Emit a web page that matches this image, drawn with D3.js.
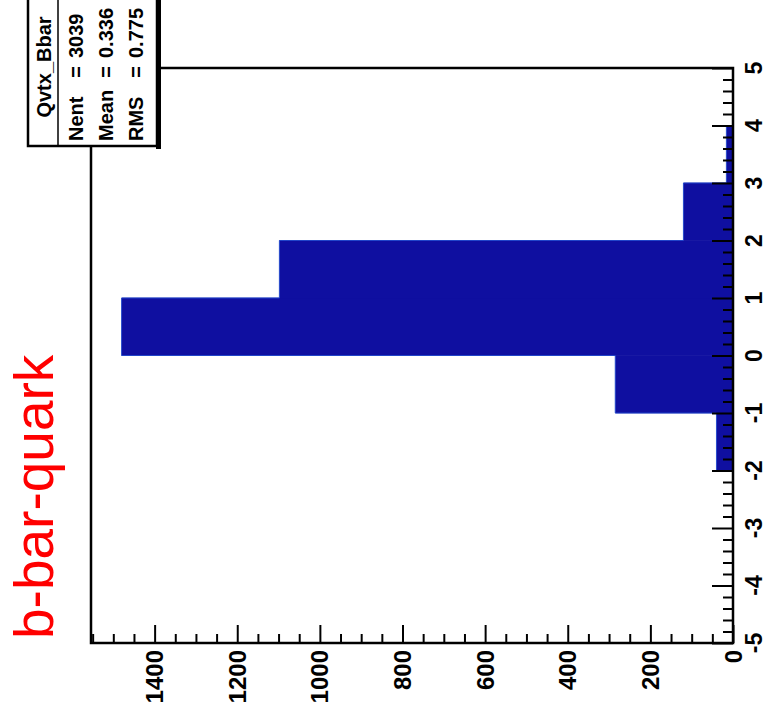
<!DOCTYPE html>
<html>
<head>
<meta charset="utf-8">
<script src="https://cdn.jsdelivr.net/npm/d3@7"></script>
<style>
  html, body { margin: 0; padding: 0; background: #fff; }
  svg { display: block; }
  text { font-family: "Liberation Sans", Arial, Helvetica, sans-serif; }
</style>
</head>
<body>
<script>
// Histogram contents: lower edge of each unit-wide bin and its entries
const binLow = [-2, -1, 0, 1, 2, 3];
const counts = [40, 285, 1480, 1098, 120, 16];

// Axis tick labels
const valueTicks = [-5, -4, -3, -2, -1, 0, 1, 2, 3, 4, 5];
const countTicks = [0, 200, 400, 600, 800, 1000, 1200, 1400];

const histName = "Qvtx_Bbar";
const titleText = "b-bar-quark";

const W = 767, H = 722;
const svg = d3.select("body").append("svg")
  .attr("width", W).attr("height", H);

// The pad is drawn turned a quarter turn: the value axis runs up the right
// edge and the entries axis runs along the bottom, growing to the left.
const frame = { left: 91, right: 733, top: 68, bottom: 643 };
const maxCount = d3.max(counts) * 1.05;

const x = d3.scaleLinear().domain([0, maxCount]).range([frame.right, frame.left]);
const y = d3.scaleLinear().domain([-5, 5]).range([frame.bottom, frame.top]);

// Filled bins
const bins = binLow.map((lo, i) => ({ lo, c: counts[i] }));
svg.append("g").selectAll("rect")
  .data(bins)
  .join("rect")
  .attr("x", d => x(d.c))
  .attr("width", d => x(0) - x(d.c))
  .attr("y", d => y(d.lo + 1) - 0.3)
  .attr("height", d => y(d.lo) - y(d.lo + 1) + 0.6)
  .attr("fill", "#0f0fa0");

// Outline of the histogram as one stepped path
const outline = [[x(0), y(binLow[0])]];
bins.forEach(d => {
  outline.push([x(d.c), y(d.lo)]);
  outline.push([x(d.c), y(d.lo + 1)]);
});
outline.push([x(0), y(binLow[binLow.length - 1] + 1)]);
svg.append("path")
  .attr("d", d3.line()(outline))
  .attr("fill", "none")
  .attr("stroke", "#1e46cc")
  .attr("stroke-width", 0.9);

// Frame
svg.append("rect")
  .attr("x", frame.left).attr("y", frame.top)
  .attr("width", frame.right - frame.left)
  .attr("height", frame.bottom - frame.top)
  .attr("fill", "none").attr("stroke", "#000").attr("stroke-width", 2.5);

function styleAxis(g) {
  g.select(".domain").remove();
  g.selectAll(".tick line").attr("stroke", "#000").attr("stroke-width", 2);
}

// Value axis ticks (pointing into the frame)
const vMinor = d3.range(-50, 51, 2).map(d => d / 10).filter(d => Math.abs(d % 1) > 1e-9);
svg.append("g")
  .attr("transform", `translate(${frame.right},0)`)
  .call(d3.axisLeft(y).tickValues(vMinor).tickSize(10).tickFormat(""))
  .call(styleAxis);
svg.append("g")
  .attr("transform", `translate(${frame.right},0)`)
  .call(d3.axisLeft(y).tickValues(valueTicks).tickSize(21).tickFormat(""))
  .call(styleAxis);

// Entries axis ticks
const cMinor = d3.range(50, maxCount, 50).filter(d => d % 200 !== 0);
svg.append("g")
  .attr("transform", `translate(0,${frame.bottom})`)
  .call(d3.axisTop(x).tickValues(cMinor).tickSize(9).tickFormat(""))
  .call(styleAxis);
svg.append("g")
  .attr("transform", `translate(0,${frame.bottom})`)
  .call(d3.axisTop(x).tickValues(countTicks).tickSize(18).tickFormat(""))
  .call(styleAxis);

// Value axis labels
svg.append("g").selectAll("text")
  .data(valueTicks)
  .join("text")
  .attr("transform", d => `translate(762,${y(d)}) rotate(-90)`)
  .attr("text-anchor", "middle")
  .attr("font-size", 23).attr("font-weight", "bold")
  .attr("fill", "#000")
  .text(d => d);

// Entries axis labels
svg.append("g").selectAll("text")
  .data(countTicks)
  .join("text")
  .attr("transform", d => `translate(${x(d) + 8.5},650) rotate(-90)`)
  .attr("text-anchor", "end")
  .attr("font-size", 24).attr("font-weight", "bold")
  .attr("fill", "#000")
  .text(d => d);

// Title
svg.append("text")
  .attr("transform", "translate(53,639) rotate(-90)")
  .attr("text-anchor", "start")
  .attr("font-size", 55)
  .attr("fill", "#ff0000")
  .text(titleText);

// Statistics box
const nent = d3.sum(counts);
const mean = d3.sum(binLow, (v, i) => v * counts[i]) / nent;
const rms = Math.sqrt(d3.sum(binLow, (v, i) => v * v * counts[i]) / nent - mean * mean);

const box = { left: 28, right: 157, top: -12, bottom: 146 };
const stats = svg.append("g");
stats.append("rect")
  .attr("x", box.right - 1).attr("y", box.top + 4)
  .attr("width", 5).attr("height", box.bottom - box.top - 1)
  .attr("fill", "#000");
stats.append("rect")
  .attr("x", box.left).attr("y", box.top)
  .attr("width", box.right - box.left).attr("height", box.bottom - box.top)
  .attr("fill", "#fff").attr("stroke", "#000").attr("stroke-width", 2.5);
stats.append("line")
  .attr("x1", 58).attr("x2", 58)
  .attr("y1", box.top).attr("y2", box.bottom)
  .attr("stroke", "#000").attr("stroke-width", 1.5);

stats.append("text")
  .attr("transform", `translate(51,${(box.top + box.bottom) / 2}) rotate(-90)`)
  .attr("text-anchor", "middle")
  .attr("font-size", 20).attr("font-weight", "bold")
  .text(histName);

const rows = [
  { label: "Nent", value: String(nent), bx: 83 },
  { label: "Mean", value: mean.toFixed(3), bx: 113 },
  { label: "RMS", value: rms.toFixed(3), bx: 143 }
];
const rowG = stats.selectAll("g.row").data(rows).join("g").attr("class", "row");
rowG.append("text")
  .attr("transform", d => `translate(${d.bx},141) rotate(-90)`)
  .attr("text-anchor", "start")
  .attr("font-size", 20).attr("font-weight", "bold")
  .text(d => d.label);
rowG.append("text")
  .attr("transform", d => `translate(${d.bx},72) rotate(-90)`)
  .attr("text-anchor", "middle")
  .attr("font-size", 20).attr("font-weight", "bold")
  .text("=");
rowG.append("text")
  .attr("transform", d => `translate(${d.bx},58) rotate(-90)`)
  .attr("text-anchor", "start")
  .attr("font-size", 20).attr("font-weight", "bold")
  .text(d => d.value);
</script>
</body>
</html>
